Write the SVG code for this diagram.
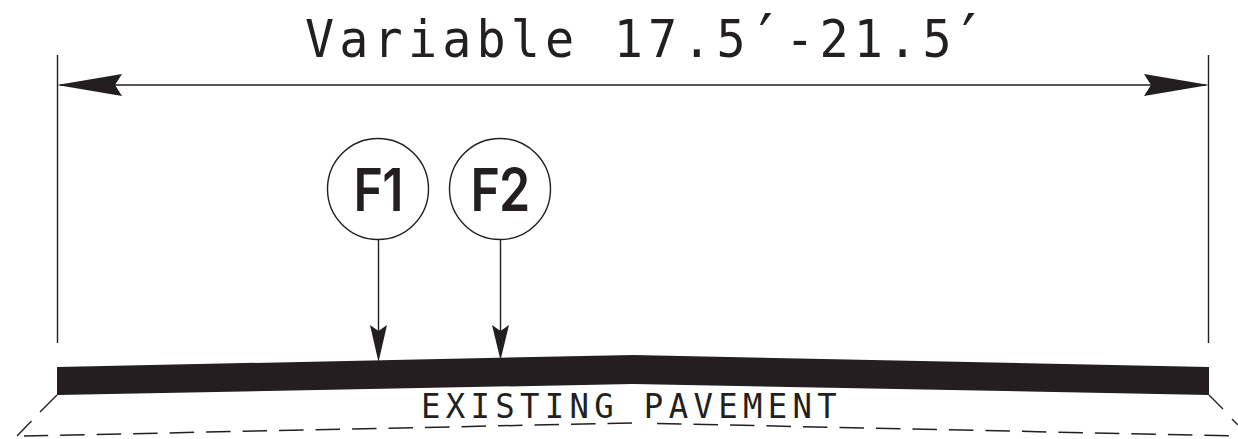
<svg xmlns="http://www.w3.org/2000/svg" width="1238" height="439" viewBox="0 0 1238 439">
<style>
.ln{fill:none;stroke:#231f20;stroke-width:1.4}
.da{fill:none;stroke:#231f20;stroke-width:1.5;stroke-dasharray:24.5 12}
.ah{fill:#231f20;stroke:none}
.m{font-family:"DejaVu Sans Mono",monospace;fill:#231f20}
.f{font-family:Inter,"Liberation Sans",sans-serif;font-size:59px;font-weight:600;fill:#231f20;text-anchor:middle;letter-spacing:-1px}
.c{fill:#fff;stroke:#231f20;stroke-width:1.4}
</style>
<rect width="1238" height="439" fill="#fff"/>
<g id="connectors">
<path class="ln" d="M57.500 55V343M1208.500 55V343M60 85H1206"/>
<path class="ah" d="M57 85L122 74L115 85L122 96Z"/>
<path class="ah" d="M1209 85L1144 74L1151 85L1144 96Z"/>
<path class="ln" d="M378.500 240V335M500.500 240V335"/>
<path class="ah" d="M378.500 362L370 325L378.500 331L387 325Z"/>
<path class="ah" d="M500.500 360L492 325L500.500 331L509 325Z"/>
</g>
<g id="pavement">
<path d="M57 367L633 355L1209 367V395L633 384L57 395Z" fill="#231f20"/>
<path class="ln" d="M57 395L40 412M31.500 421L17 436M1209 395L1223 409M1232 419L1238 425"/>
<path class="da" d="M657 423.500L1238 436"/>
<path class="da" d="M632 423L24 436"/>
</g>
<text id="dimension-label" class="m" transform="translate(305 57) scale(.95 1)" font-size="51" letter-spacing="5.4">Variable 17.5<tspan x="465" dy="4" font-size="66">′</tspan><tspan x="505.500" dy="-4">-21.5</tspan><tspan x="679" dy="4" font-size="66">′</tspan></text>
<text id="existing-label" class="m" transform="translate(421 418) scale(.95 1)" font-size="34" letter-spacing="5.6">EXISTING PAVEMENT</text>
<g id="F1"><circle class="c" cx="378" cy="189" r="50.500"/><text class="f" transform="translate(378 211) scale(.85 1)">F1</text></g>
<g id="F2"><circle class="c" cx="500" cy="189" r="50.500"/><text class="f" transform="translate(500 211) scale(.85 1)">F2</text></g>
</svg>
